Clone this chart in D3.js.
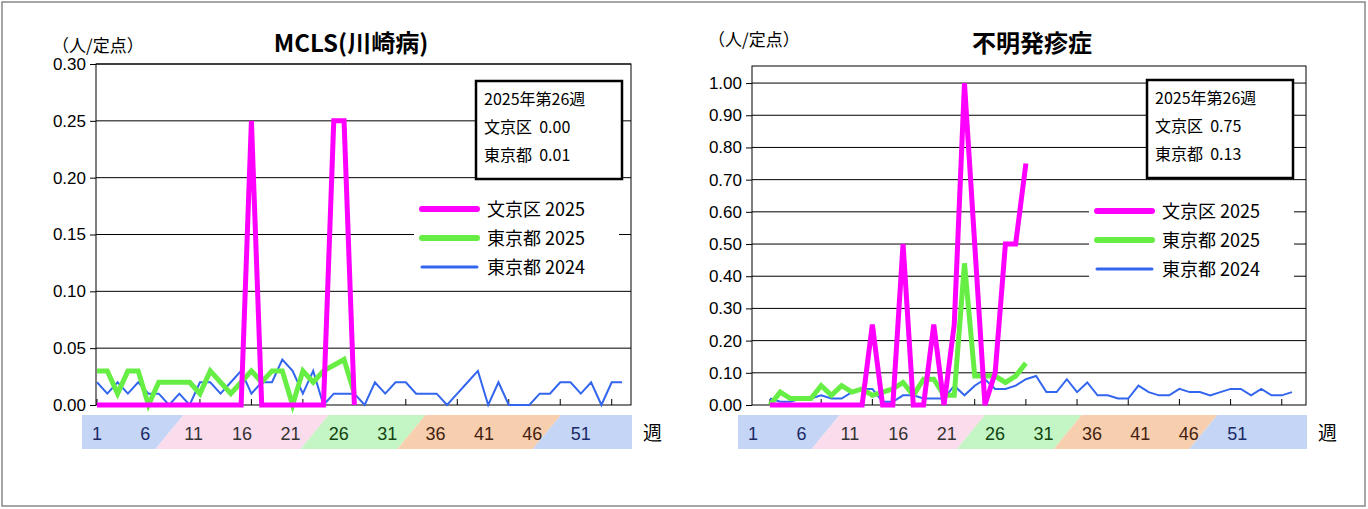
<!DOCTYPE html>
<html>
<head>
<meta charset="utf-8">
<script src="https://cdn.jsdelivr.net/npm/d3@7"></script>
<style>
body { margin: 0; background: #fff; }
text { font-family: "Noto Sans CJK JP", sans-serif; }
</style>
</head>
<body>
<div id="chart"></div>
<script>
var tickWeeks = [1, 6, 11, 16, 21, 26, 31, 36, 41, 46, 51];

// MCLS
var mclsBunkyo2025 = [0,0,0,0,0,0,0,0,0,0,0,0,0,0,0,0.25,0,0,0,0,0,0,0,0.25,0.25,0];
var mclsTokyo2025 = [0.03,0.03,0.01,0.03,0.03,0,0.02,0.02,0.02,0.02,0.01,0.03,0.02,0.01,0.02,0.03,0.02,0.03,0.03,0,0.03,0.02,0.03,0.035,0.04,0.01];
var mclsTokyo2024 = [0.02,0.01,0.02,0.01,0.02,0.01,0.01,0,0.01,0,0.02,0.02,0.01,0.02,0.03,0.01,0.02,0.02,0.04,0.03,0.01,0.03,0,0.01,0.01,0.01,0,0.02,0.01,0.02,0.02,0.01,0.01,0.01,0,0.01,0.02,0.03,0,0.02,0,0,0,0.01,0.01,0.02,0.02,0.01,0.02,0,0.02,0.02];
// 不明発疹症
var rashBunkyo2025 = [0,0,0,0,0,0,0,0,0,0,0.25,0,0,0.5,0,0,0.25,0,0.25,1.0,0.5,0,0.1,0.5,0.5,0.75];
var rashTokyo2025 = [0,0.04,0.02,0.02,0.02,0.06,0.03,0.06,0.04,0.05,0.03,0.04,0.05,0.07,0.03,0.08,0.08,0.03,0.03,0.44,0.09,0.09,0.09,0.07,0.09,0.13];
var rashTokyo2024 = [0.02,0.01,0.01,0.02,0.02,0.03,0.02,0.02,0.04,0.05,0.05,0.01,0.01,0.03,0.03,0.02,0.02,0.02,0.06,0.03,0.06,0.08,0.05,0.05,0.06,0.08,0.09,0.04,0.04,0.08,0.04,0.07,0.03,0.03,0.02,0.02,0.06,0.04,0.03,0.03,0.05,0.04,0.04,0.03,0.04,0.05,0.05,0.03,0.05,0.03,0.03,0.04];

var seriesNames = ['文京区 2025', '東京都 2025', '東京都 2024'];
var colors = ['#ff00ff', '#66ee44', '#3366ee'];
var widths = [5, 5, 2];

// season bands: [from week, to week, fill, text colour]
var bands = [[1, 8.5, '#c5d5f5', '#1a2a66'], [8.5, 23.5, '#fbdcec', '#333'], [23.5, 33.5, '#c4f5c4', '#114411'], [33.5, 47.5, '#f8cfae', '#442211'], [47.5, 53, '#c5d5f5', '#1a2a66']];

var svg = d3.select('#chart').append('svg').attr('width', 1368).attr('height', 509);
svg.append('rect').attr('x', 2).attr('y', 2).attr('width', 1363).attr('height', 504)
    .attr('fill', 'none').attr('stroke', '#888').attr('stroke-width', 1.5);

function drawChart(opt) {
    var g = svg.append('g').attr('transform', 'translate(' + opt.left + ',' + opt.top + ')');
    var w = opt.width, h = opt.height;
    var x = d3.scaleLinear().domain([0.9, opt.xmax]).range([0, w]);      // labels and bands
    var xl = d3.scaleLinear().domain([1, 52]).range([opt.lineX0, opt.lineX1]); // lines
    var y = d3.scaleLinear().domain([0, opt.ymax]).range([h, 0]);

    var yt = d3.range(0, opt.ytop + 1e-9, opt.ystep);
    g.selectAll('.grid').data(yt.slice(1)).enter().append('line')
        .attr('x1', 0).attr('x2', w).attr('y1', y).attr('y2', y)
        .attr('stroke', '#000').attr('stroke-width', 1);
    g.append('rect').attr('width', w).attr('height', h).attr('fill', 'none').attr('stroke', '#000');

    var yAxis = d3.axisLeft(y).tickValues(yt).tickFormat(d3.format('.2f')).tickSize(6);
    var ya = g.append('g').call(yAxis);
    ya.select('.domain').remove();
    ya.selectAll('text').attr('font-size', 17).attr('fill', '#000').attr('x', -10)
        .style('font-family', 'Liberation Sans, Arial, sans-serif');

    g.selectAll('.xt').data(tickWeeks).enter().append('line')
        .attr('x1', xl).attr('x2', xl).attr('y1', h).attr('y2', h - 6).attr('stroke', '#000');

    // bands
    var by = h + 10, bh = 34, sl = 14;
    bands.forEach(function (b, i) {
        var x0 = i === 0 ? -14 : x(b[0]), x1 = i === bands.length - 1 ? w + 1 : x(b[1]);
        var pts = i === 0 ? [[x0, by], [x1 + sl, by], [x1 - sl, by + bh], [x0, by + bh]]
            : i === bands.length - 1 ? [[x0 + sl, by], [x1, by], [x1, by + bh], [x0 - sl, by + bh]]
            : [[x0 + sl, by], [x1 + sl, by], [x1 - sl, by + bh], [x0 - sl, by + bh]];
        g.append('polygon').attr('points', pts.map(function (p) { return p.join(','); }).join(' ')).attr('fill', b[2]);
    });
    g.selectAll('.xl').data(tickWeeks).enter().append('text')
        .attr('x', x).attr('y', by + 25).attr('text-anchor', 'middle').attr('font-size', 18)
        .style('font-family', 'Liberation Sans, Arial, sans-serif')
        .attr('fill', function (d) { var c = bands.find(function (b) { return d >= b[0] && d < b[1]; }); return c ? c[3] : '#000'; })
        .text(function (d) { return d; });
    g.append('text').attr('x', w + 12).attr('y', by + 25).attr('font-size', 19).text('週');

    var line = d3.line().x(function (d, i) { return xl(i + 1); }).y(function (d) { return y(d); });
    [opt.data[2], opt.data[1], opt.data[0]].forEach(function (d, k) {
        var s = 2 - k;
        g.append('path').datum(d).attr('d', line).attr('fill', 'none')
            .attr('stroke', colors[s]).attr('stroke-width', widths[s]).attr('stroke-linejoin', 'miter');
    });

    // legend
    var lg = g.append('g').attr('transform', 'translate(' + opt.legX + ',' + opt.legY + ')');
    seriesNames.forEach(function (n, i) {
        lg.append('rect').attr('x', -8).attr('y', i * 29 - 12).attr('width', 205).attr('height', 24).attr('fill', '#fff');
        lg.append('line').attr('x1', 0).attr('x2', 55).attr('y1', i * 29).attr('y2', i * 29)
            .attr('stroke', colors[i]).attr('stroke-width', widths[i] + 1).attr('stroke-linecap', 'round');
        lg.append('text').attr('x', 65).attr('y', i * 29 + 7).attr('font-size', 18).text(n);
    });

    // info box
    var ib = g.append('g').attr('transform', 'translate(' + opt.boxX + ',' + opt.boxY + ')');
    ib.append('rect').attr('width', 146).attr('height', 98).attr('fill', '#fff').attr('stroke', '#000').attr('stroke-width', 2.5);
    ['2025年第26週', '文京区  ' + opt.now[0].toFixed(2), '東京都  ' + opt.now[1].toFixed(2)].forEach(function (t, i) {
        ib.append('text').attr('x', 8).attr('y', 24 + i * 28).attr('font-size', 16).attr('xml:space', 'preserve').text(t);
    });

    svg.append('text').attr('x', opt.left + opt.titleX).attr('y', 52).attr('text-anchor', 'middle')
        .attr('font-size', 24).attr('font-weight', 'bold').text(opt.title);
    svg.append('text').attr('x', opt.unitX).attr('y', opt.unitY).attr('font-size', 17).text('（人/定点）');
}

drawChart({ left: 96, top: 64, width: 535, height: 341, xmax: 56.2, ymax: 0.30, ytop: 0.30, ystep: 0.05,
    lineX0: 1, lineX1: 526,
    data: [mclsBunkyo2025, mclsTokyo2025, mclsTokyo2024], title: 'MCLS(川崎病)', titleX: 255,
    unitX: 52, unitY: 52,
    legX: 326, legY: 145, boxX: 380, boxY: 17, now: [0.00, 0.01] });
drawChart({ left: 752, top: 66, width: 554, height: 339, xmax: 58.1, ymax: 1.053, ytop: 1.0, ystep: 0.10,
    lineX0: 18, lineX1: 540,
    data: [rashBunkyo2025, rashTokyo2025, rashTokyo2024], title: '不明発疹症', titleX: 280,
    unitX: 708, unitY: 46,
    legX: 345, legY: 145, boxX: 395, boxY: 14, now: [0.75, 0.13] });
</script>
</body>
</html>
